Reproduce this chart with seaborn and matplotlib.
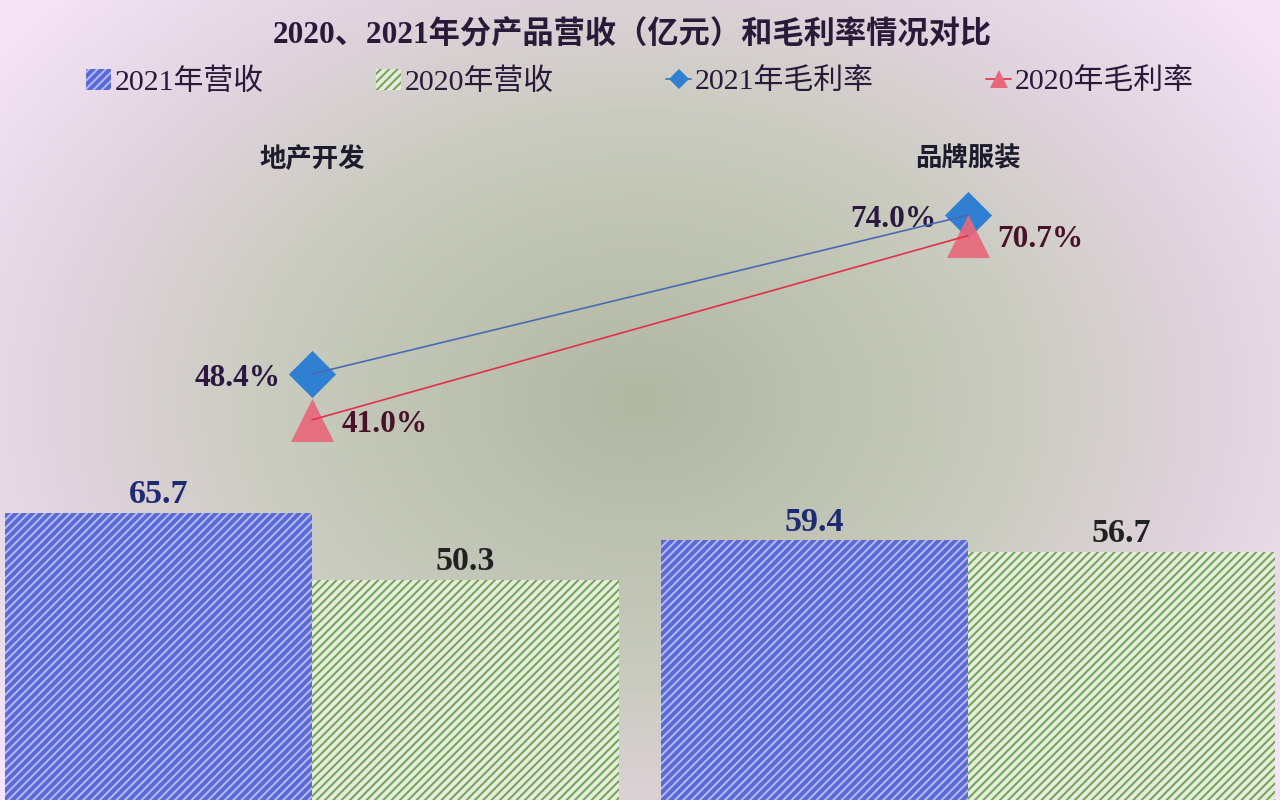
import numpy as np
import pandas as pd
import matplotlib
matplotlib.use("Agg")
import matplotlib.pyplot as plt
import seaborn as sns
from matplotlib.patches import Patch
from matplotlib.lines import Line2D
from matplotlib.colors import LinearSegmentedColormap

# data
categories = ["地产开发", "品牌服装"]
revenue_2021 = [65.7, 59.4]
revenue_2020 = [50.3, 56.7]
margin_2021 = [48.4, 74.0]
margin_2020 = [41.0, 70.7]
series_names = ["2021年营收", "2020年营收", "2021年毛利率", "2020年毛利率"]
title = "2020、2021年分产品营收（亿元）和毛利率情况对比"

sns.set_theme(style="white")
plt.rcParams['font.family'] = ['Liberation Serif', 'Noto Sans CJK SC', 'DejaVu Sans']
plt.rcParams['hatch.linewidth'] = 1.4

blue_face, blue_hatch = "#5a68d8", "#b4bcf2"
green_face, green_hatch = "#e6ebdc", "#6fa454"
dia_col, dia_line = "#2f80d2", "#4a6ab0"
tri_col, tri_line = "#e8687a", "#e0304a"
text_dark = "#2a1a3a"

fig = plt.figure(figsize=(12.8, 8), dpi=100)

# radial background
bg = fig.add_axes([0, 0, 1, 1], zorder=-10)
yy, xx = np.mgrid[0:1:400j, 0:1:640j]
r = np.sqrt(((xx - 0.5) / 0.62) ** 2 + ((yy - 0.5) / 0.75) ** 2)
cmap = LinearSegmentedColormap.from_list(
    "bg", [(0, "#b2b7a4"), (0.45, "#c8cbbd"), (0.75, "#e2d4e0"), (1.0, "#f4e4f6")])
bg.imshow(np.clip(r, 0, 1), cmap=cmap, aspect='auto', extent=[0, 1, 0, 1], vmin=0, vmax=1)
bg.axis('off')

# bars
ax = fig.add_axes([0, 0, 1, 1])
ax.patch.set_alpha(0)
df = pd.DataFrame({
    "category": categories * 2,
    "value": revenue_2021 + revenue_2020,
    "series": [series_names[0]] * 2 + [series_names[1]] * 2,
})
sns.barplot(data=df, x="category", y="value", hue="series", hue_order=series_names[:2],
            palette=[blue_face, green_face], width=0.936, gap=0, saturation=1,
            legend=False, ax=ax)
styles = [(blue_face, blue_hatch, "#1e2a72"), (green_face, green_hatch, "#222222")]
for cont, (fc, hc, lc) in zip(ax.containers, styles):
    for p in cont:
        p.set_facecolor(fc)
        p.set_edgecolor(hc)
        p.set_hatch("////")
        p.set_linewidth(0)
    ax.bar_label(cont, fmt="%.1f", padding=2, fontsize=24.5, fontweight='bold', color=lc)
ax.set_xlim(-0.476, 1.476)
ax.set_ylim(0, 183)
ax.axis('off')

# category labels on top
for i, c in enumerate(categories):
    ax.text(i, 1 - 159 / 800, c, transform=ax.get_xaxis_transform(), ha='center', va='center',
            fontsize=19, fontweight='bold', color="#1c1c2c",
            family=['Noto Sans CJK SC', 'DejaVu Sans'])

# margins
ax2 = ax.twinx()
ax2.set_ylim(-20.3, 108.7)
pos = np.arange(len(categories))
sns.scatterplot(x=pos, y=margin_2021, marker='D', s=24 ** 2, color=dia_col, linewidth=0,
                ax=ax2, zorder=3, legend=False)
sns.scatterplot(x=pos, y=margin_2020, marker='^', s=31 ** 2, color=tri_col, linewidth=0,
                alpha=0.92, ax=ax2, zorder=3, legend=False)
sns.lineplot(x=pos, y=margin_2021, color=dia_line, lw=1.2, ax=ax2, zorder=4, legend=False)
sns.lineplot(x=pos, y=margin_2020, color=tri_line, lw=1.2, ax=ax2, zorder=4, legend=False)
for x, v in zip(pos, margin_2021):
    ax2.annotate(f"{v:.1f}%", (x, v), xytext=(-23, -3), textcoords='offset points',
                 ha='right', va='center', fontsize=22.5, fontweight='bold', color="#2a1840")
for x, v in zip(pos, margin_2020):
    ax2.annotate(f"{v:.1f}%", (x, v), xytext=(21, -3), textcoords='offset points',
                 ha='left', va='center', fontsize=22.5, fontweight='bold', color="#4a1228")
ax2.axis('off')

# title & legend
fig.text(0.494, 1 - 35 / 800, title, ha='center', va='center', fontsize=22.5,
         fontweight='bold', color=text_dark)
handles = [
    Patch(facecolor=blue_face, edgecolor=blue_hatch, hatch="////", lw=0),
    Patch(facecolor=green_face, edgecolor=green_hatch, hatch="////", lw=0),
    Line2D([], [], color=dia_line, marker='D', markersize=10, markerfacecolor=dia_col,
           markeredgewidth=0, lw=1.2),
    Line2D([], [], color=tri_line, marker='^', markersize=13, markerfacecolor=tri_col,
           markeredgewidth=0, lw=1.2),
]
leg = fig.legend(handles, series_names, loc='center', bbox_to_anchor=(0.5, 1 - 82 / 800),
                 ncol=4, frameon=False, fontsize=21.5, handlelength=0.85, handletextpad=0.12,
                 columnspacing=3.75)
for t in leg.get_texts():
    t.set_color(text_dark)

fig.savefig("out.png", dpi=100)
